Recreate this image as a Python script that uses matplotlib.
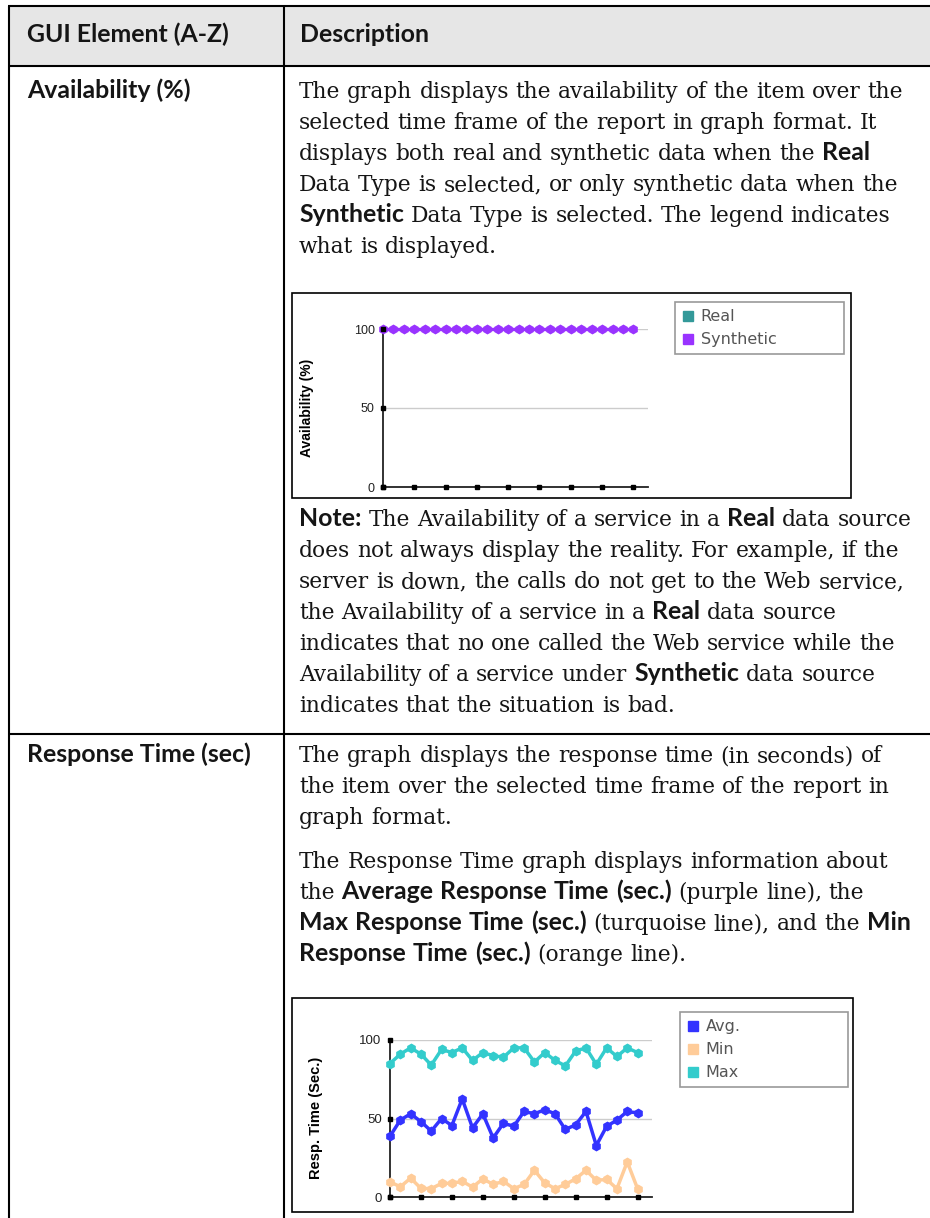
import matplotlib
matplotlib.use("Agg")
import matplotlib.pyplot as plt
from matplotlib.patches import Rectangle
from matplotlib.lines import Line2D

# ---------------- data ----------------
header_cols = ["GUI Element (A-Z)", "Description"]
row_labels = ["Availability (%)", "Response Time (sec)"]

# ** marks the bold (sans) runs
avail_text = [
    "The graph displays the availability of the item over the",
    "selected time frame of the report in graph format. It",
    "displays both real and synthetic data when the **Real**",
    "Data Type is selected, or only synthetic data when the",
    "**Synthetic** Data Type is selected. The legend indicates",
    "what is displayed.",
]
note_text = [
    "**Note:** The Availability of a service in a **Real** data source",
    "does not always display the reality. For example, if the",
    "server is down, the calls do not get to the Web service,",
    "the Availability of a service in a **Real** data source",
    "indicates that no one called the Web service while the",
    "Availability of a service under **Synthetic** data source",
    "indicates that the situation is bad.",
]
resp_text_1 = [
    "The graph displays the response time (in seconds) of",
    "the item over the selected time frame of the report in",
    "graph format.",
]
resp_text_2 = [
    "The Response Time graph displays information about",
    "the **Average Response Time (sec.)** (purple line), the",
    "**Max Response Time (sec.)** (turquoise line), and the **Min**",
    "**Response Time (sec.)** (orange line).",
]

points = list(range(25))
x_ticks = list(range(0, 25, 3))
y_ticks = [0, 50, 100]

avail_labels = ["Real", "Synthetic"]
avail_colors = ["#339999", "#9933ff"]
synthetic = [100, 100, 100, 100, 100, 100, 100, 100, 100, 100, 100, 100, 100,
             100, 100, 100, 100, 100, 100, 100, 100, 100, 100, 100, 100]

resp_labels = ["Avg.", "Min", "Max"]
resp_colors = ["#3333ff", "#ffcc99", "#33cccc"]
resp_avg = [38.7, 49, 53, 48, 42, 50, 45.5, 62.5, 44, 53, 37.6, 47, 45,
            54.5, 53, 55.6, 53, 43, 46, 54.5, 32.8, 45, 49, 54.5, 53.5]
resp_min = [9.7, 6.5, 12, 5.5, 5.3, 8.7, 8.7, 10, 6.3, 11.6, 8, 10, 5.3,
            8, 17, 9, 5.3, 8, 11.6, 17, 10.6, 11.2, 5.3, 22.4, 5.3]
resp_max = [85, 91, 95, 91, 84, 94, 92, 95, 87, 92, 90, 89, 95,
            95, 86, 92, 87, 83.5, 93, 95, 84.5, 95, 89.5, 95, 92]

# ---------------- page ----------------
W, H = 930, 1218
fig = plt.figure(figsize=(W / 100, H / 100), dpi=100)
page = fig.add_axes([0, 0, 1, 1])
page.set_xlim(0, W)
page.set_ylim(H, 0)
page.axis("off")
renderer = fig.canvas.get_renderer()

SERIF = "DejaVu Serif"
SANS = "Lato"
INK = "#151515"


def width_of(s, **kw):
    t = page.text(0, 0, s, **kw)
    w = t.get_window_extent(renderer).width
    t.remove()
    return w


serif_size = 10 * 608 / width_of(avail_text[0], family=SERIF, size=10)
sans_size = 10 * 203 / width_of(header_cols[0], family=SANS, weight="bold", size=10)
body_kw = dict(family=SERIF, size=serif_size, color=INK)
bold_kw = dict(family=SANS, weight="bold", size=sans_size, color=INK)
space = width_of("n n", **body_kw) - width_of("nn", **body_kw)


def draw_line(x, y, s):
    cx = x
    for i, part in enumerate(s.split("**")):
        kw = bold_kw if i % 2 else body_kw
        for j, word in enumerate(part.split(" ")):
            if j > 0:
                cx += space
            if word:
                t = page.text(cx, y, word, ha="left", va="baseline", **kw)
                cx += t.get_window_extent(renderer).width


def draw_block(x, y0, lines, step=31):
    for k, line in enumerate(lines):
        draw_line(x, y0 + k * step, line)


# table frame
page.add_patch(Rectangle((9, 6), W - 9, 60, facecolor="#e6e6e6", edgecolor="none"))
lw = 1.5
for yy in [6, 66, 734]:
    page.plot([8, W], [yy, yy], color="black", lw=lw, solid_capstyle="butt")
for xx in [9, 284]:
    page.plot([xx, xx], [6, H], color="black", lw=lw, solid_capstyle="butt")

# header + left column
page.text(27, 42, header_cols[0], ha="left", va="baseline", **bold_kw)
page.text(300, 42, header_cols[1], ha="left", va="baseline", **bold_kw)
page.text(27, 98, row_labels[0], ha="left", va="baseline", **bold_kw)
page.text(27, 762, row_labels[1], ha="left", va="baseline", **bold_kw)

# description text
TX = 299
draw_block(TX, 98, avail_text)
draw_block(TX, 526, note_text)
draw_block(TX, 762, resp_text_1)
draw_block(TX, 868, resp_text_2)


# ---------------- charts ----------------
def chart_axes(l, t, r, b, tick_size):
    ax = fig.add_axes([l / W, 1 - b / H, (r - l) / W, (b - t) / H])
    ax.patch.set_alpha(0)
    ax.set_xlim(0, 25.4)
    ax.set_ylim(0, 100)
    ax.spines[["top", "right"]].set_visible(False)
    for s in ["left", "bottom"]:
        ax.spines[s].set_linewidth(1.3)
        ax.spines[s].set_color("#222222")
    ax.set_xticks(x_ticks)
    ax.set_xticklabels([])
    ax.set_yticks(y_ticks)
    ax.tick_params(length=0, pad=6, labelsize=tick_size, labelcolor="#222222")
    for lab in ax.get_yticklabels():
        lab.set_family("Liberation Sans")
    ax.yaxis.grid(True, color="#cccccc", lw=1)
    ax.set_axisbelow(True)
    ax.plot([0] * len(y_ticks), y_ticks, "s", color="black", ms=2.8, clip_on=False, zorder=5)
    ax.plot(x_ticks, [0] * len(x_ticks), "s", color="black", ms=2.8, clip_on=False, zorder=5)
    return ax


def chart_legend(ax, labels, colors, box):
    x0, y0, x1 = box
    handles = [Line2D([], [], marker="s", ls="none", color=c, ms=7) for c in colors]
    leg = ax.legend(handles, labels, loc="upper left",
                    bbox_to_anchor=(x0 / W, 1 - y0 / H, (x1 - x0) / W, 0),
                    bbox_transform=fig.transFigure, mode="expand", borderaxespad=0,
                    frameon=True, fancybox=False, edgecolor="#999999", framealpha=1,
                    prop={"family": "DejaVu Sans", "size": 11.5}, labelcolor="#555555",
                    handlelength=0.7, handletextpad=0.45, labelspacing=0.5, borderpad=0.45)
    leg.get_frame().set_linewidth(1.2)


# chart 1 - availability
page.add_patch(Rectangle((292, 293), 559, 205, facecolor="white", edgecolor="black", lw=1.2))
ax1 = chart_axes(383, 329, 648, 487, 9)
ax1.plot(points, synthetic, color=avail_colors[1], lw=2.5, marker="h", ms=6,
         clip_on=False, zorder=4)
chart_legend(ax1, avail_labels, avail_colors, (675, 302, 844))
page.text(307, 408, "Availability (%)", rotation=90, ha="center", va="center",
          family="Liberation Sans", weight="bold", size=10, color="black")

# chart 2 - response time
page.add_patch(Rectangle((292, 998), 561, 214, facecolor="white", edgecolor="black", lw=1.2))
ax2 = chart_axes(390, 1040, 652, 1197, 9.5)
for vals, c in zip([resp_min, resp_avg, resp_max], [resp_colors[1], resp_colors[0], resp_colors[2]]):
    ax2.plot(points, vals, color=c, lw=2.5, marker="h", ms=6, clip_on=False, zorder=4)
chart_legend(ax2, resp_labels, resp_colors, (680, 1012, 848))
page.text(316, 1118, "Resp. Time (Sec.)", rotation=90, ha="center", va="center",
          family="Liberation Sans", weight="bold", size=10.5, color="black")

fig.savefig("out.png", dpi=100)
